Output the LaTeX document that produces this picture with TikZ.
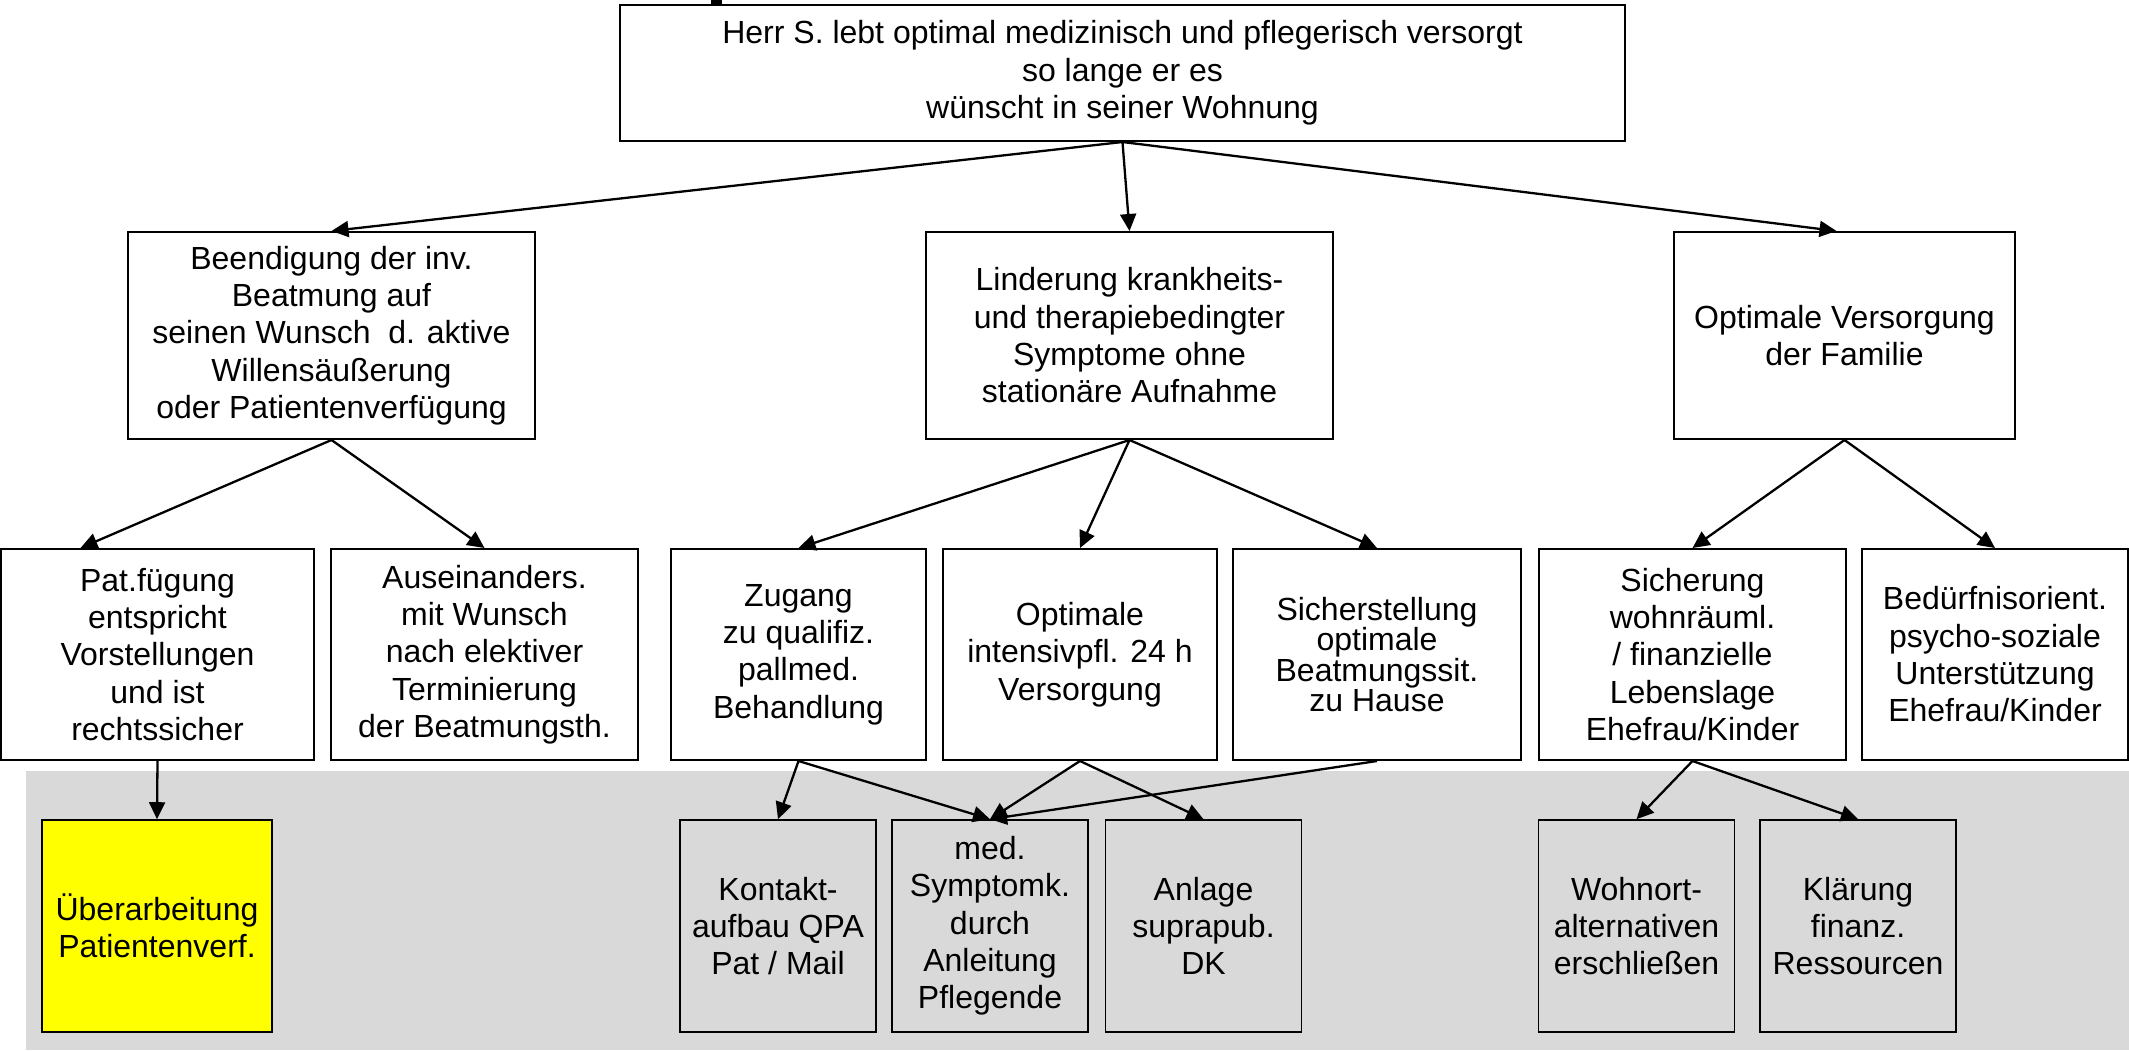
\documentclass[tikz,border=0pt]{standalone}
\usepackage{fontspec}
\setmainfont{Liberation Sans}
\usetikzlibrary{arrows.meta}
\definecolor{bandgrau}{RGB}{217,217,217}
\definecolor{markgelb}{RGB}{255,255,0}

\begin{document}
\begin{tikzpicture}[x=1pt,y=-1pt,
      ziel/.style={draw,line width=2pt,fill=white,align=center,inner sep=0pt,
        font=\fontsize{32}{37.3}\selectfont,minimum height=207pt},
      teilziel/.style={ziel,minimum height=211pt},
      massnahme/.style={ziel,line width=1.6pt,fill=bandgrau,minimum width=196pt,minimum height=212pt},
      pfeil/.style={line width=2.3pt,-{Triangle[length=17pt,width=16pt]}}]
      \useasboundingbox (0,0) rectangle (2129,1050);
      \fill[white] (0,0) rectangle (2129,1050);
      \fill[bandgrau] (26,771) rectangle (2129,1050);
      \fill[black] (711,0) rectangle (722,11);
      % Hauptziel
      \node[ziel,minimum width=1005pt,minimum height=136pt] (wunsch) at (1122.5,73) {Herr S. lebt optimal medizinisch und pflegerisch versorgt\\so lange er es\\wünscht in seiner Wohnung};
      % Ziele
      \node[ziel,minimum width=407pt] (beatmung) at (331.5,335.5) {Beendigung der inv.\\Beatmung auf\\seinen Wunsch~ d. aktive\\Willensäußerung\\oder Patientenverfügung};
      \node[ziel,minimum width=407pt] (linderung) at (1129.5,335.5) {Linderung krankheits-\\und therapiebedingter\\Symptome ohne\\stationäre Aufnahme};
      \node[ziel,minimum width=341pt] (familie) at (1844.5,335.5) {Optimale Versorgung\\der Familie};
      % Teilziele
      \node[teilziel,minimum width=313pt] (verfuegung) at (157.5,654.5) {Pat.fügung\\entspricht\\Vorstellungen\\und ist\\rechtssicher};
      \node[teilziel,minimum width=307pt] (terminierung) at (484.5,654.5) {Auseinanders.\\mit Wunsch\\nach elektiver\\Terminierung\\der Beatmungsth.};
      \node[teilziel,minimum width=255pt] (zugang) at (798.5,654.5) {Zugang\\zu qualifiz.\\pallmed.\\Behandlung};
      \node[teilziel,minimum width=274pt] (intensiv) at (1080,654.5) {Optimale\\intensivpfl. 24 h\\Versorgung};
      \node[teilziel,minimum width=288pt,font=\fontsize{32}{30.5}\selectfont] (beatmungssit) at (1377,654.5) {Sicherstellung\\optimale\\Beatmungssit.\\zu Hause};
      \node[teilziel,minimum width=307pt] (wohnlage) at (1692.5,654.5) {Sicherung\\wohnräuml.\\/ finanzielle\\Lebenslage\\Ehefrau/Kinder};
      \node[teilziel,minimum width=266pt] (psychosozial) at (1995,654.5) {Bedürfnisorient.\\psycho-soziale\\Unterstützung\\Ehefrau/Kinder};
      % Massnahmen
      \node[massnahme,fill=markgelb,minimum width=230pt] (ueberarbeitung) at (157,926) {Überarbeitung\\Patientenverf.};
      \node[massnahme] (kontakt) at (778,926) {Kontakt-\\aufbau QPA\\Pat / Mail};
      \node[massnahme] (symptomkontrolle) at (990,926) {med.\\Symptomk.\\durch\\Anleitung\\Pflegende};
      \node[massnahme] (dk) at (1203.5,926) {Anlage\\suprapub.\\DK};
      \node[massnahme] (wohnort) at (1636.5,926) {Wohnort-\\alternativen\\erschließen};
      \node[massnahme] (finanzen) at (1858,926) {Klärung\\finanz.\\Ressourcen};
      % Pfeile
      \draw[pfeil] (wunsch.south) -- (beatmung.north);
      \draw[pfeil] (wunsch.south) -- (linderung.north);
      \draw[pfeil] (wunsch.south) -- ([xshift=-8pt]familie.north);
      \draw[pfeil] (beatmung.south) -- ([xshift=-77pt]verfuegung.north);
      \draw[pfeil] (beatmung.south) -- (terminierung.north);
      \draw[pfeil] (linderung.south) -- (zugang.north);
      \draw[pfeil] (linderung.south) -- (intensiv.north);
      \draw[pfeil] (linderung.south) -- (beatmungssit.north);
      \draw[pfeil] (familie.south) -- (wohnlage.north);
      \draw[pfeil] (familie.south) -- (psychosozial.north);
      \draw[pfeil] (verfuegung.south) -- (ueberarbeitung.north);
      \draw[pfeil] (zugang.south) -- (kontakt.north);
      \draw[pfeil] (zugang.south) -- (symptomkontrolle.north);
      \draw[pfeil] (intensiv.south) -- (symptomkontrolle.north);
      \draw[pfeil] (intensiv.south) -- (dk.north);
      \draw[pfeil] (beatmungssit.south) -- (symptomkontrolle.north);
      \draw[pfeil] (wohnlage.south) -- (wohnort.north);
      \draw[pfeil] (wohnlage.south) -- (finanzen.north);
    \end{tikzpicture}
\end{document}
